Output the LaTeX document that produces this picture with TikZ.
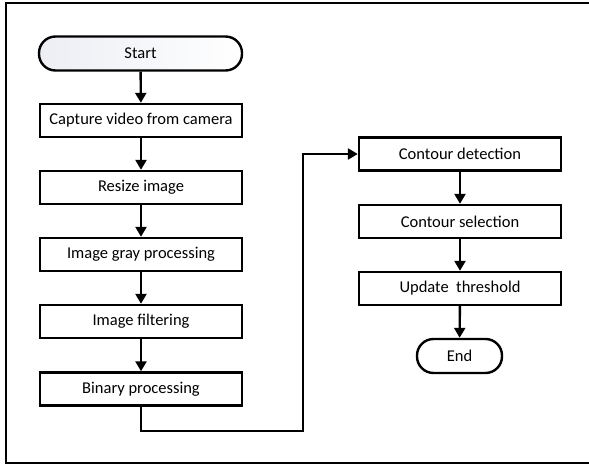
\documentclass[tikz,border=0pt]{standalone}
\usepackage{fontspec}
\setmainfont{Carlito}
\usetikzlibrary{arrows.meta}
\definecolor{startshade}{RGB}{236,238,244}
\begin{document}
\begin{tikzpicture}[x=1pt,y=-1pt,
  line width=2.4pt,
  stepbox/.style={draw, rectangle, minimum width=202pt, minimum height=33pt,
    inner sep=0pt, font=\fontsize{16.5}{19}\selectfont},
  termbox/.style={draw, rectangle, rounded corners=16.5pt, minimum height=34pt,
    inner sep=0pt, font=\fontsize{16.5}{19}\selectfont},
  flow/.style={-{Triangle[width=11pt,length=10pt]}}]
  \useasboundingbox (0,0) rectangle (589,468);
  % outer frame
  \draw (595,3) -- (6,3) -- (6,463) -- (595,463);

  % left column
  \node[termbox, minimum width=203pt, left color=startshade, right color=white] (start) at (140.5,53.5) {Start};
  \node[stepbox] (capture) at (141,120.5) {Capture video from camera};
  \node[stepbox] (resize) at (141,187.5) {Resize image};
  \node[stepbox] (gray) at (141,254.5) {Image gray processing};
  \node[stepbox] (filter) at (141,321.5) {Image filtering};
  \node[stepbox] (binary) at (141,389) {Binary processing};

  % right column
  \node[stepbox] (detect) at (460,154) {Contour detection};
  \node[stepbox] (select) at (460,221.5) {Contour selection};
  \node[stepbox] (update) at (460,288.5) {Update\ \ threshold};
  \node[termbox, minimum width=85pt] (end) at (459.5,356) {End};

  % connectors
  \draw[flow] (start) -- (capture);
  \draw[flow] (capture) -- (resize);
  \draw[flow] (resize) -- (gray);
  \draw[flow] (gray) -- (filter);
  \draw[flow] (filter) -- (binary);
  \coordinate (loopA) at (141,431);
  \coordinate (loopB) at (303,431);
  \coordinate (loopC) at (303,154);
  \draw[flow] (binary.south) -- (loopA) -- (loopB) -- (loopC) -- (detect.west);
  \draw[flow] (detect) -- (select);
  \draw[flow] (select) -- (update);
  \draw[flow] (update) -- (end);
\end{tikzpicture}
\end{document}
